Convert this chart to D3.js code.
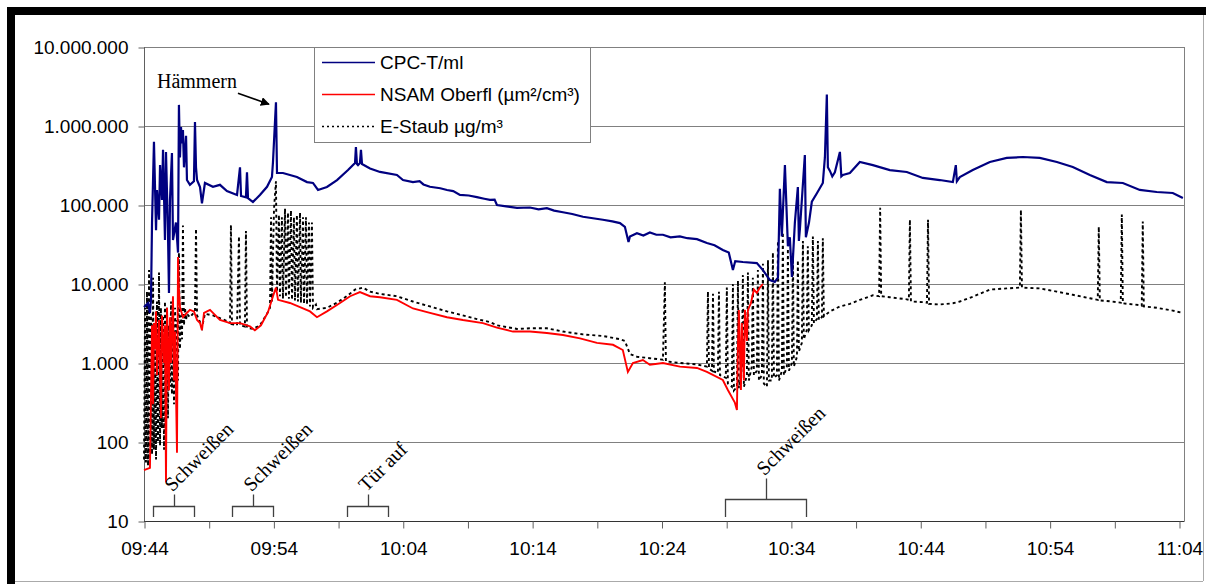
<!DOCTYPE html>
<html>
<head>
<meta charset="utf-8">
<script src="https://cdn.jsdelivr.net/npm/d3@7"></script>
<style>
  body { margin: 0; background: #fff; }
</style>
</head>
<body>
<script>
// minutes after 09:44, value
const cpc = [
  [0, 5100], [0.31, 5700], [0.46, 4300], [0.54, 6300], [0.62, 59000], [0.77, 630000], [0.93, 48000],
  [1.00, 155000], [1.16, 65000], [1.24, 320000], [1.39, 116000], [1.47, 500000], [1.62, 36000],
  [1.70, 470000], [1.85, 48000], [1.93, 7700], [2.01, 116000], [2.16, 455000], [2.24, 36000],
  [2.47, 60000], [2.63, 25000], [2.70, 1850000], [2.78, 400000], [2.86, 970000], [2.94, 600000],
  [3.01, 890000], [3.09, 300000], [3.25, 750000], [3.32, 207000], [3.55, 180000], [3.86, 200000],
  [3.94, 1120000], [4.02, 300000], [4.10, 207000], [4.33, 169000], [4.48, 105000], [4.71, 190000],
  [5.33, 170000], [5.87, 180000], [6.41, 150000], [7.19, 134000], [7.42, 300000], [7.50, 130000],
  [7.88, 125000], [7.96, 260000], [8.04, 122000], [8.42, 109000], [8.96, 134000], [9.51, 170000],
  [9.89, 226000], [9.97, 350000], [10.20, 2000000], [10.28, 254000], [10.74, 254000], [11.82, 226000],
  [12.60, 195000], [13.06, 190000], [13.45, 155000], [14.14, 169000], [14.92, 207000], [15.77, 277000],
  [16.31, 340000], [16.38, 540000], [16.46, 330000], [16.54, 320000], [16.69, 340000], [16.77, 500000],
  [16.85, 330000], [17.47, 290000], [18.24, 262000], [19.55, 240000], [20.02, 207000], [20.79, 195000],
  [21.30, 200000], [21.60, 182000], [22.10, 170000], [22.90, 163000], [23.42, 155000], [23.90, 150000],
  [24.42, 134000], [25.10, 132000], [25.73, 126000], [26.30, 120000], [26.74, 116000], [27.10, 117000],
  [27.28, 100000], [28.00, 96000], [28.83, 92000], [29.83, 93000], [30.50, 88000], [31.14, 91000],
  [31.70, 85000], [32.38, 81000], [33.10, 77000], [33.93, 71000], [34.70, 68000], [35.47, 65000],
  [36.20, 62000], [36.79, 59000], [37.17, 53000], [37.45, 34000], [37.56, 40000], [38.10, 44000],
  [38.60, 41000], [39.10, 45000], [39.60, 42000], [40.11, 42000], [40.70, 39000], [41.42, 40000],
  [42.00, 38000], [42.74, 37000], [43.51, 33000], [44.10, 31000], [44.74, 27000], [45.20, 25000],
  [45.52, 15000], [45.70, 19500],
  [46.29, 19000], [47.37, 18400], [47.84, 15000], [48.38, 11200], [48.76, 10600], [49.00, 12000],
  [49.15, 160000], [49.30, 40000], [49.54, 320000], [49.77, 30000], [49.92, 39000], [50.08, 12300],
  [50.31, 60000], [50.54, 169000], [50.62, 35000], [50.70, 50000], [51.08, 430000], [51.16, 39000],
  [51.40, 60000], [51.62, 110000], [52.00, 140000], [52.47, 190000], [52.63, 400000], [52.78, 2500000],
  [52.86, 300000], [53.02, 270000], [53.20, 230000], [53.40, 260000], [53.79, 470000], [53.90, 230000],
  [54.02, 240000], [54.56, 254000], [55.33, 350000], [56.34, 320000], [57.65, 277000], [58.96, 262000],
  [60.20, 220000], [61.51, 207000], [62.52, 195000], [62.75, 320000], [62.83, 200000], [63.06, 226000],
  [64.06, 277000], [65.38, 350000], [66.69, 394000], [67.93, 405000], [69.24, 394000], [70.56, 350000],
  [71.79, 303000], [73.11, 240000], [74.42, 195000], [75.66, 190000], [76.97, 155000], [78.28, 146000],
  [79.52, 142000], [80.30, 123000]
];

const nsam = [
  [0, 44], [0.46, 47], [0.62, 3000], [0.70, 300], [0.77, 3200], [0.85, 1500], [0.93, 4500], [1.00, 700],
  [1.16, 3500], [1.31, 200], [1.39, 4000], [1.55, 1000], [1.62, 3000], [1.70, 31], [1.78, 5000],
  [1.93, 450], [2.01, 3800], [2.09, 1000], [2.24, 7000], [2.32, 600], [2.40, 2500], [2.55, 73],
  [2.63, 22000], [2.70, 8500], [2.78, 5100], [3.01, 3800], [3.25, 4200], [3.55, 4700], [3.86, 4500],
  [4.10, 3500], [4.33, 3200], [4.48, 2600], [4.64, 4300], [5.10, 4700], [5.87, 3500], [6.65, 3200],
  [7.42, 3200], [8.19, 2900], [8.57, 2600], [9.04, 3000], [9.58, 4400], [9.97, 7000], [10.20, 9000],
  [10.36, 6300], [11.28, 5750], [12.06, 5100], [12.83, 4500], [13.37, 3800], [14.14, 4500],
  [15.15, 5750], [15.93, 7000], [16.69, 7900], [17.47, 7000], [18.24, 6800], [19.55, 6300],
  [20.79, 4900], [22.10, 4300], [23.42, 3800], [24.65, 3500], [26.20, 3200], [27.28, 2800],
  [28.52, 2500], [29.83, 2500], [31.14, 2400], [32.38, 2260], [33.70, 2050], [35.01, 1800],
  [36.25, 1700], [37.01, 1460], [37.40, 770], [37.79, 1000], [38.56, 1090], [39.10, 950], [40.11, 1000],
  [41.42, 900], [42.74, 865], [43.51, 770], [44.74, 610], [45.13, 455], [45.67, 315], [45.83, 254],
  [45.90, 1460], [45.98, 4700], [46.14, 455], [46.21, 3200], [46.37, 600], [46.45, 4700], [46.60, 1900],
  [46.68, 4700], [46.91, 5700], [47.14, 8500], [47.37, 7700], [47.60, 9000], [47.84, 10000]
];

const staub = [
  [0.00, 60], [0.08, 5000], [0.15, 55], [0.23, 8000], [0.31, 50], [0.39, 15000], [0.46, 60],
  [0.54, 4000], [0.62, 70], [0.70, 12000], [0.77, 80], [0.85, 3000], [0.93, 60], [1.00, 6000],
  [1.08, 100], [1.16, 14000], [1.24, 90], [1.31, 5000], [1.39, 150], [1.47, 4000], [1.55, 80],
  [1.62, 6000], [1.70, 300], [1.78, 5000], [1.85, 200], [1.93, 3000], [2.01, 500], [2.09, 6000],
  [2.16, 400], [2.24, 4500], [2.32, 300], [2.40, 5000], [2.47, 800], [2.55, 3500], [2.63, 600],
  [2.70, 25000], [2.78, 1500], [2.86, 4000], [2.94, 2000], [3.01, 55000], [3.09, 3000], [3.17, 5000],
  [3.25, 3500], [3.32, 4200], [3.55, 3800], [3.94, 4500], [4.02, 50000], [4.10, 4000], [4.33, 3300],
  [4.48, 2800], [4.71, 4200], [5.33, 4000], [5.87, 3700], [6.41, 3400], [6.65, 3200], [6.72, 56000],
  [6.80, 3100], [7.19, 3000], [7.34, 40000], [7.42, 3000], [7.80, 2900], [7.88, 47000], [7.96, 2800],
  [8.42, 2700], [8.96, 3000], [9.51, 4200], [9.74, 5000], [9.82, 70000], [9.89, 6000], [10.05, 90000],
  [10.20, 200000], [10.28, 8000], [10.43, 75000], [10.51, 7000], [10.66, 70000], [10.74, 6500],
  [10.90, 90000], [10.97, 6800], [11.13, 80000], [11.20, 6500], [11.36, 85000], [11.44, 6300],
  [11.59, 70000], [11.67, 6200], [11.82, 75000], [11.90, 6000], [12.06, 80000], [12.13, 5800],
  [12.29, 70000], [12.37, 5600], [12.52, 70000], [12.60, 5500], [12.75, 60000], [12.83, 5200],
  [12.98, 60000], [13.06, 5000], [13.29, 5500], [13.37, 4800], [14.14, 5000], [14.92, 5800],
  [15.77, 7200], [16.31, 8500], [16.92, 9000], [17.47, 8000], [18.24, 7500], [19.55, 7000],
  [20.79, 6000], [22.10, 5200], [23.42, 4500], [24.42, 4100], [25.73, 3600], [26.74, 3300],
  [27.28, 3000], [28.83, 2700], [29.83, 2750], [31.14, 2750], [32.38, 2500], [33.93, 2300],
  [35.47, 2200], [36.79, 2000], [37.17, 1900], [37.56, 1300], [38.10, 1200], [39.10, 1150],
  [40.11, 1100], [40.26, 10500], [40.34, 1050], [41.42, 1000], [42.74, 960], [43.51, 900],
  [43.59, 8000], [43.67, 850], [43.90, 800], [43.98, 7500], [44.05, 780], [44.36, 750], [44.44, 8000],
  [44.52, 700], [44.97, 650], [45.05, 9000], [45.13, 550], [45.44, 500], [45.52, 10000], [45.60, 450],
  [45.83, 500], [45.91, 11000], [45.98, 480], [46.21, 900], [46.29, 13000], [46.37, 500], [46.60, 700],
  [46.68, 14000], [46.75, 600], [46.98, 900], [47.06, 12000], [47.14, 700], [47.37, 800], [47.45, 15000],
  [47.53, 600], [47.76, 700], [47.84, 18000], [47.91, 550], [48.15, 500], [48.23, 20000], [48.30, 600],
  [48.53, 600], [48.61, 25000], [48.69, 650], [48.92, 700], [49.00, 35000], [49.08, 600], [49.31, 800],
  [49.38, 45000], [49.46, 700], [49.69, 900], [49.77, 28000], [49.85, 800], [50.08, 1000], [50.16, 25000],
  [50.23, 900], [50.47, 1200], [50.54, 20000], [50.62, 1400], [50.85, 1800], [50.93, 35000], [51.00, 2000],
  [51.23, 2600], [51.31, 30000], [51.39, 2600], [51.62, 3000], [51.70, 40000], [51.78, 3200],
  [52.01, 3600], [52.09, 35000], [52.16, 3500], [52.40, 3800], [52.47, 38000], [52.55, 3900],
  [53.02, 4500], [53.79, 5200], [54.56, 5600], [55.33, 6300], [56.34, 7200], [56.82, 7000],
  [56.90, 92000], [56.98, 7000], [57.65, 6800], [58.96, 6400], [59.12, 6300], [59.20, 65000],
  [59.28, 6000], [60.20, 5900], [60.52, 5800], [60.60, 65000], [60.68, 5600], [61.51, 5500],
  [62.52, 5700], [63.06, 6000], [64.06, 6900], [65.38, 8500], [66.69, 8800], [67.70, 9000],
  [67.78, 87000], [67.86, 9000], [69.24, 8800], [70.56, 8000], [71.79, 7300], [73.11, 6600],
  [73.72, 6300], [73.80, 53000], [73.88, 6200], [74.42, 6100], [75.50, 5800], [75.58, 76000],
  [75.66, 5700], [76.97, 5400], [77.12, 5300], [77.20, 62000], [77.28, 5200], [78.28, 5000],
  [79.52, 4600], [80.30, 4300]
];

const seriesNames = ['CPC-T/ml', 'NSAM Oberfl (µm²/cm³)', 'E-Staub µg/m³'];
const yTicks = [10, 100, 1000, 10000, 100000, 1000000, 10000000];
const yTickLabels = ['10', '100', '1.000', '10.000', '100.000', '1.000.000', '10.000.000'];
const xTicks = d3.range(0, 81, 5);
const xTickLabels = ['09:44', '09:54', '10:04', '10:14', '10:24', '10:34', '10:44', '10:54', '11:04'];

const events = [
  { label: 'Schweißen', from: 0.7, to: 3.86 },
  { label: 'Schweißen', from: 6.8, to: 9.97 },
  { label: 'Tür auf', from: 15.69, to: 18.86 },
  { label: 'Schweißen', from: 44.9, to: 51.16 },
];

const W = 1206, H = 584;
const plotLeft = 144, plotRight = 1184, plotTop = 47, plotBottom = 521;
const sans = '"Liberation Sans", Arial, sans-serif';
const serif = '"Liberation Serif", "Times New Roman", serif';

const svg = d3.select('body').append('svg')
  .attr('width', W)
  .attr('height', H);

// frame
svg.append('rect').attr('x', 7).attr('y', 7).attr('width', W - 7).attr('height', 8).attr('fill', '#000');
svg.append('rect').attr('x', 7).attr('y', 7).attr('width', 8).attr('height', H - 7).attr('fill', '#000');
svg.append('line').attr('x1', 15).attr('x2', 1203).attr('y1', 581.5).attr('y2', 581.5).attr('stroke', '#aaa');
svg.append('line').attr('x1', 1203.5).attr('x2', 1203.5).attr('y1', 15).attr('y2', 581).attr('stroke', '#aaa');

const x = d3.scaleLinear().domain([0, 80]).range([plotLeft, 1179]);
const y = d3.scaleLog().domain([10, 1e7]).range([plotBottom, plotTop]);

// grid
svg.append('g').selectAll('line')
  .data(yTicks.slice(1))
  .join('line')
  .attr('x1', plotLeft).attr('x2', plotRight)
  .attr('y1', d => Math.round(y(d)) + 0.5).attr('y2', d => Math.round(y(d)) + 0.5)
  .attr('stroke', '#808080');

svg.append('line')
  .attr('x1', plotRight + 0.5).attr('x2', plotRight + 0.5).attr('y1', plotTop).attr('y2', plotBottom)
  .attr('stroke', '#808080');
svg.append('line')
  .attr('x1', plotLeft + 0.5).attr('x2', plotLeft + 0.5).attr('y1', plotTop).attr('y2', plotBottom)
  .attr('stroke', '#606060');

// axes
const yAxis = svg.append('g')
  .attr('transform', `translate(${plotLeft + 0.5},0.5)`)
  .call(d3.axisLeft(y).tickValues(yTicks).tickSize(6).tickPadding(10)
    .tickFormat((d, i) => yTickLabels[i]));
yAxis.select('.domain').remove();
yAxis.selectAll('text').attr('font-size', 19).attr('fill', '#000').style('font-family', sans);
yAxis.selectAll('line').attr('stroke', '#606060');

const xAxis = svg.append('g')
  .attr('transform', `translate(0.5,${plotBottom + 0.5})`)
  .call(d3.axisBottom(x).tickValues(xTicks).tickSize(7).tickPadding(13)
    .tickFormat(d => (d % 10 === 0 ? xTickLabels[d / 10] : '')));
xAxis.select('.domain').attr('d', `M${plotLeft - 0.5},0H${plotRight}`).attr('stroke', '#333');
xAxis.selectAll('line').attr('stroke', '#606060');
xAxis.selectAll('text').attr('font-size', 19).attr('fill', '#000').style('font-family', sans);

// series
const line = d3.line()
  .x(d => x(d[0]))
  .y(d => y(d[1]));

const plot = svg.append('g');

plot.append('path')
  .datum(staub)
  .attr('fill', 'none')
  .attr('stroke', '#000')
  .attr('stroke-width', 1.9)
  .attr('stroke-dasharray', '3,3')
  .attr('d', line);

plot.append('path')
  .datum(nsam)
  .attr('fill', 'none')
  .attr('stroke', '#ff0000')
  .attr('stroke-width', 1.9)
  .attr('d', line);

plot.append('path')
  .datum(cpc)
  .attr('fill', 'none')
  .attr('stroke', '#000080')
  .attr('stroke-width', 2.2)
  .attr('d', line);

// event brackets
events.forEach((e) => {
  const x0 = Math.round(x(e.from)) + 0.5;
  const x1 = Math.round(x(e.to)) + 0.5;
  const xm = Math.round((x0 + x1) / 2) + 0.5;
  const lift = (e.to - e.from) > 5 ? 7 : 0;
  const yb = plotBottom - 15 - lift + 0.5;
  svg.append('path')
    .attr('d', `M${x0},${plotBottom - 4}V${yb}H${x1}V${plotBottom - 4}M${xm},${yb}V${yb - 12 - lift * 1.3}`)
    .attr('fill', 'none')
    .attr('stroke', '#404040')
    .attr('stroke-width', 1.3);
  svg.append('text')
    .attr('transform', `translate(${xm - 2},${yb - 14 - lift * 1.3}) rotate(-45)`)
    .style('font-family', serif)
    .attr('font-size', 20)
    .attr('fill', '#000')
    .text(e.label);
});

// Hämmern annotation
const hx = x(10.2), hy = y(2000000);
svg.append('defs').append('marker')
  .attr('id', 'arrow')
  .attr('viewBox', '0 0 10 10')
  .attr('refX', 9).attr('refY', 5)
  .attr('markerWidth', 9).attr('markerHeight', 9)
  .attr('markerUnits', 'userSpaceOnUse')
  .attr('orient', 'auto')
  .append('path').attr('d', 'M0,0L10,5L0,10z').attr('fill', '#000');
svg.append('line')
  .attr('x1', hx - 38).attr('y1', hy - 9)
  .attr('x2', hx - 7).attr('y2', hy + 2)
  .attr('stroke', '#000').attr('stroke-width', 1.5)
  .attr('marker-end', 'url(#arrow)');
svg.append('text')
  .attr('x', hx - 119).attr('y', hy - 14)
  .style('font-family', serif)
  .attr('font-size', 20)
  .attr('fill', '#000')
  .text('Hämmern');

// legend
const legend = svg.append('g').attr('transform', 'translate(314,47)');
legend.append('rect')
  .attr('x', 0.5).attr('y', 0.5).attr('width', 276).attr('height', 95)
  .attr('fill', '#fff').attr('stroke', '#808080');
const legendStyles = [
  { color: '#000080', dash: null },
  { color: '#ff0000', dash: null },
  { color: '#000', dash: '2,3' },
];
seriesNames.forEach((name, i) => {
  const ly = 15.5 + i * 32;
  legend.append('line')
    .attr('x1', 8).attr('x2', 61).attr('y1', ly).attr('y2', ly)
    .attr('stroke', legendStyles[i].color)
    .attr('stroke-width', 1.6)
    .attr('stroke-dasharray', legendStyles[i].dash);
  legend.append('text')
    .attr('x', 66).attr('y', ly)
    .attr('dy', '0.35em')
    .attr('font-size', 19)
    .attr('fill', '#000')
    .style('font-family', sans)
    .text(name);
});
</script>
</body>
</html>
